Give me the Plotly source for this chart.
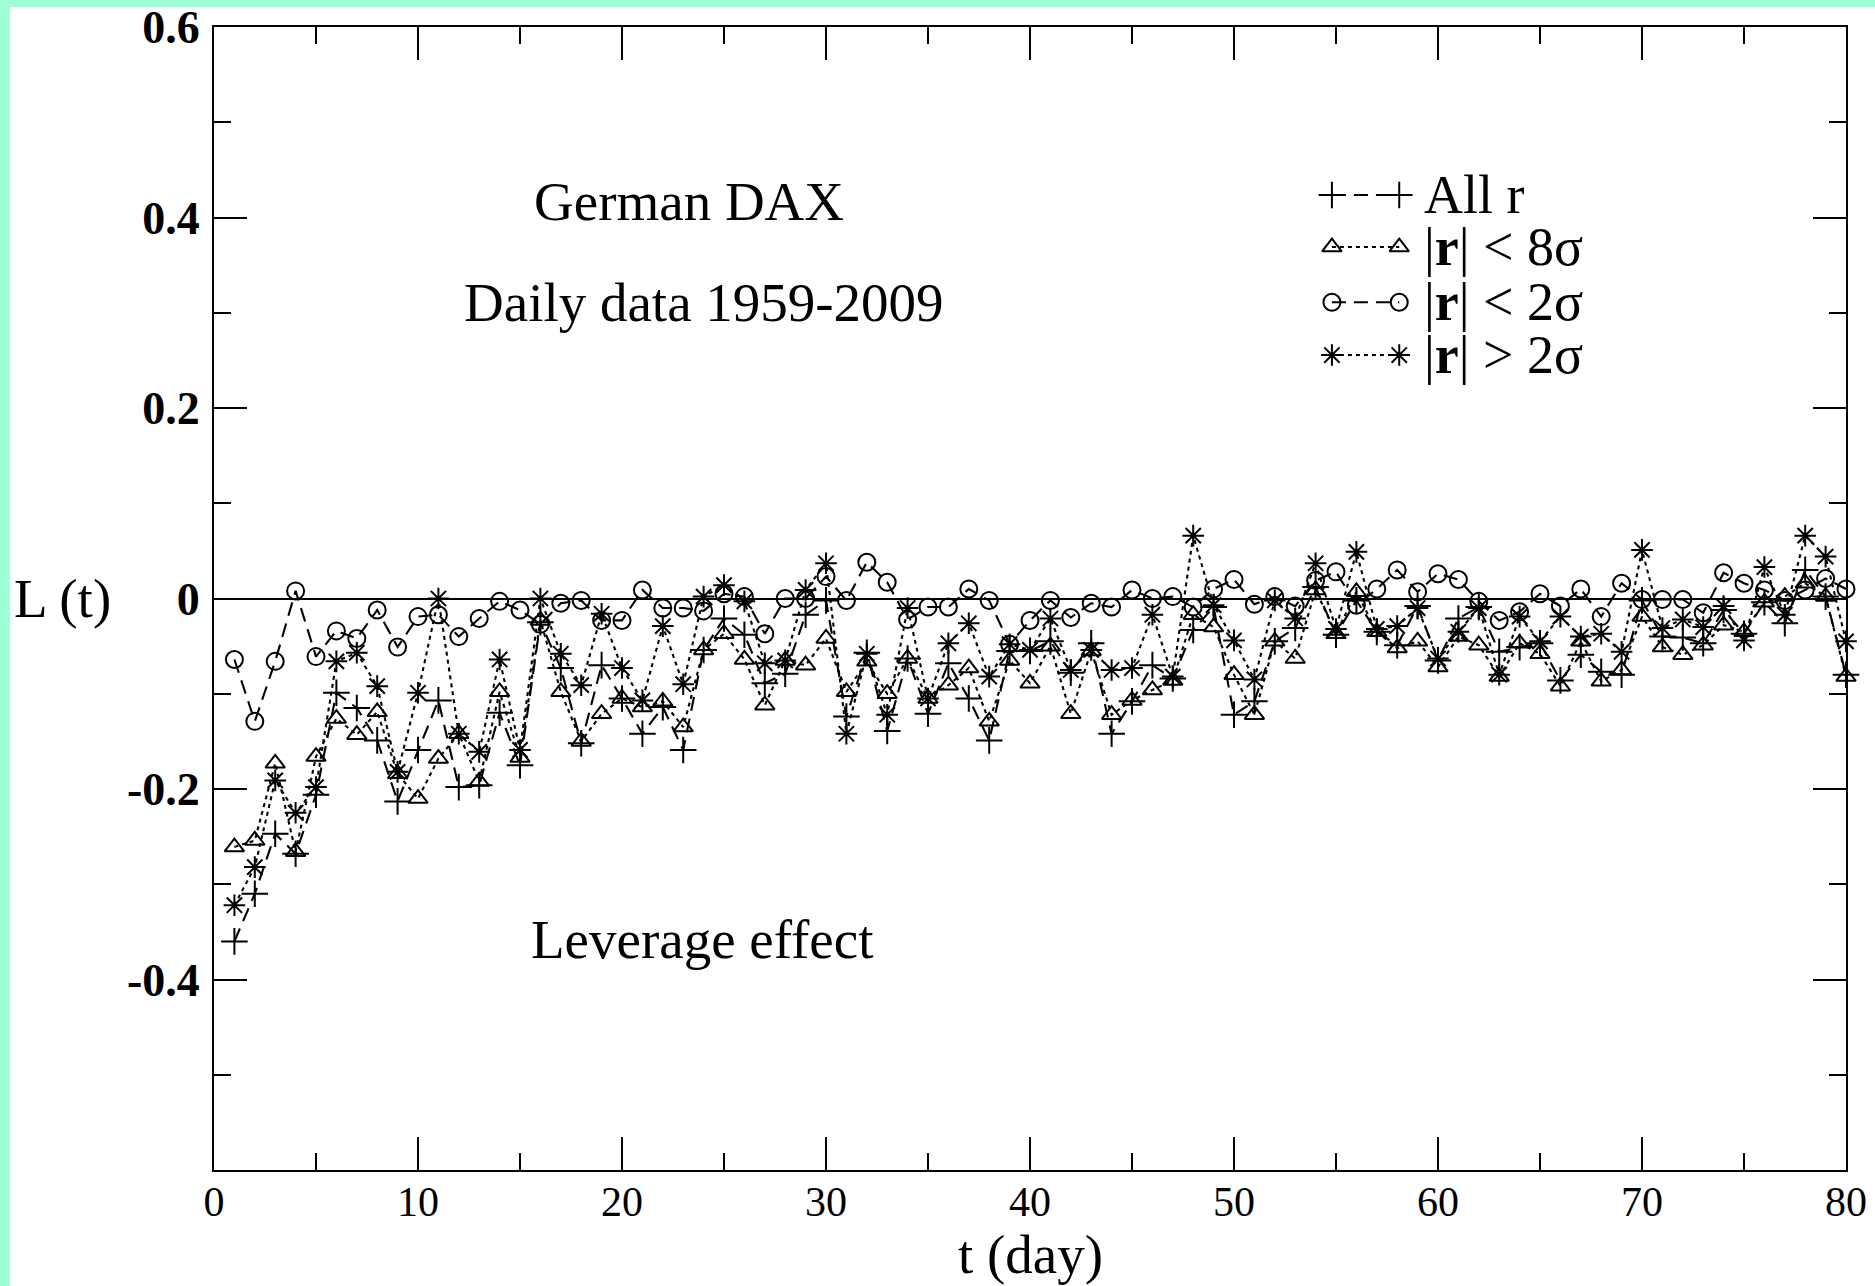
import plotly.graph_objects as go

# ---------------- data ----------------
t_days = list(range(1, 81))

all_r = [-0.360, -0.310, -0.247, -0.268, -0.206, -0.099, -0.115, -0.149, -0.213, -0.159,
         -0.107, -0.198, -0.196, -0.120, -0.175, -0.025, -0.073, -0.152, -0.070, -0.105,
         -0.142, -0.114, -0.159, -0.054, -0.021, -0.038, -0.089, -0.079, -0.017, -0.002,
         -0.124, -0.057, -0.139, -0.063, -0.121, -0.068, -0.105, -0.149, -0.055, -0.055,
         -0.045, -0.078, -0.047, -0.142, -0.108, -0.070, -0.084, -0.033, -0.009, -0.122,
         -0.108, -0.045, -0.031, 0.012, -0.038, -0.002, -0.035, -0.049, -0.008, -0.065,
         -0.021, -0.009, -0.056, -0.051, -0.047, -0.086, -0.059, -0.077, -0.080, -0.002,
         -0.040, -0.041, -0.047, -0.012, -0.037, -0.004, -0.026, 0.030, 0.002, -0.080]

r_lt_8s = [-0.261, -0.254, -0.173, -0.266, -0.166, -0.126, -0.143, -0.119, -0.184, -0.210,
           -0.168, -0.142, -0.192, -0.098, -0.167, -0.023, -0.098, -0.150, -0.121, -0.105,
           -0.114, -0.108, -0.135, -0.054, -0.037, -0.064, -0.112, -0.065, -0.070, -0.042,
           -0.098, -0.066, -0.100, -0.063, -0.105, -0.091, -0.073, -0.129, -0.065, -0.089,
           -0.050, -0.121, -0.055, -0.122, -0.107, -0.096, -0.086, -0.017, -0.030, -0.080,
           -0.122, -0.045, -0.063, 0.009, -0.037, 0.007, -0.035, -0.052, -0.045, -0.072,
           -0.040, -0.049, -0.082, -0.047, -0.058, -0.092, -0.045, -0.087, -0.075, -0.019,
           -0.051, -0.059, -0.049, -0.028, -0.035, -0.004, 0.002, 0.016, 0.002, -0.082]

r_lt_2s = [-0.064, -0.129, -0.066, 0.008, -0.061, -0.034, -0.042, -0.012, -0.051, -0.019,
           -0.017, -0.040, -0.021, -0.003, -0.012, -0.027, -0.005, -0.002, -0.023, -0.023,
           0.009, -0.010, -0.010, -0.013, 0.005, 0.002, -0.037, 0.000, 0.000, 0.023,
           -0.002, 0.038, 0.017, -0.022, -0.009, -0.009, 0.010, -0.002, -0.048, -0.023,
           -0.002, -0.020, -0.005, -0.009, 0.009, 0.000, 0.002, -0.009, 0.010, 0.020,
           -0.006, 0.002, -0.008, 0.019, 0.028, -0.007, 0.010, 0.030, 0.007, 0.026,
           0.020, -0.003, -0.023, -0.014, 0.005, -0.008, 0.010, -0.019, 0.016, -0.001,
           -0.001, -0.001, -0.015, 0.027, 0.016, 0.009, -0.002, 0.009, 0.021, 0.010]

r_gt_2s = [-0.322, -0.282, -0.191, -0.225, -0.198, -0.066, -0.057, -0.092, -0.182, -0.099,
           0.000, -0.142, -0.161, -0.064, -0.159, 0.000, -0.058, -0.091, -0.016, -0.073,
           -0.107, -0.029, -0.090, 0.002, 0.014, -0.003, -0.068, -0.065, 0.009, 0.037,
           -0.142, -0.058, -0.122, -0.010, -0.105, -0.047, -0.026, -0.082, -0.048, -0.054,
           -0.021, -0.075, -0.054, -0.075, -0.073, -0.017, -0.082, 0.066, -0.007, -0.044,
           -0.085, -0.002, -0.021, 0.037, -0.032, 0.049, -0.032, -0.029, -0.010, -0.063,
           -0.035, -0.010, -0.080, -0.019, -0.045, -0.019, -0.040, -0.037, -0.056, 0.051,
           -0.031, -0.022, -0.030, -0.008, -0.044, 0.033, -0.017, 0.066, 0.044, -0.045]

series_names = ["All r", "|<b>r</b>| < 8σ", "|<b>r</b>| < 2σ", "|<b>r</b>| > 2σ"]
series_values = [all_r, r_lt_8s, r_lt_2s, r_gt_2s]

x_tick_vals = [0, 10, 20, 30, 40, 50, 60, 70, 80]
y_tick_vals = [-0.4, -0.2, 0, 0.2, 0.4, 0.6]
y_tick_text = ["-0.4", "-0.2", "0", "0.2", "0.4", "0.6"]

# ---------------- styles ----------------
FONT = "Liberation Serif, Times New Roman, serif"
styles = [
    dict(symbol="cross-thin-open", size=19, dash="14px,8px"),
    dict(symbol="triangle-up-open", size=17, dash="4px,4px"),
    dict(symbol="circle-open", size=17, dash="14px,8px"),
    dict(symbol="asterisk-open", size=18, dash="4px,4px"),
]
LINE_W = 2.1

fig = go.Figure()

for name, vals, st in zip(series_names, series_values, styles):
    fig.add_trace(go.Scatter(
        x=t_days, y=vals, mode="lines+markers", name=name, showlegend=False,
        line=dict(color="black", width=LINE_W, dash=st["dash"]),
        marker=dict(symbol=st["symbol"], size=st["size"], color="black",
                    line=dict(color="black", width=2)),
        cliponaxis=False,
    ))

# ---------------- hand-drawn legend (samples with markers at both ends) ----------------
leg_x = [54.8, 58.1]
leg_text_x = 59.2
leg_rows_y = [0.4236, 0.369, 0.311, 0.2556]
for name, st, ly in zip(series_names, styles, leg_rows_y):
    fig.add_trace(go.Scatter(
        x=leg_x, y=[ly, ly], mode="lines+markers", showlegend=False, hoverinfo="skip",
        line=dict(color="black", width=LINE_W, dash=st["dash"]),
        marker=dict(symbol=st["symbol"], size=st["size"], color="black",
                    line=dict(color="black", width=2)),
        cliponaxis=False,
    ))
    fig.add_annotation(x=leg_text_x, y=ly, xref="x", yref="y", text=name,
                       showarrow=False, xanchor="left", yanchor="middle",
                       font=dict(family=FONT, size=54, color="black"))

# ---------------- text labels ----------------
text_font = dict(family=FONT, size=55, color="black")
fig.add_annotation(x=23.3, y=0.417, xref="x", yref="y", text="German DAX",
                   showarrow=False, font=text_font)
fig.add_annotation(x=24.0, y=0.311, xref="x", yref="y", text="Daily data 1959-2009",
                   showarrow=False, font=text_font)
fig.add_annotation(x=23.9, y=-0.358, xref="x", yref="y", text="Leverage effect",
                   showarrow=False, font=text_font)
fig.add_annotation(x=-0.093, y=0.5, xref="paper", yref="paper", text="L (t)",
                   showarrow=False, font=text_font, xanchor="center", yanchor="middle")
fig.add_annotation(x=0.5, y=-0.0735, xref="paper", yref="paper", text="t (day)",
                   showarrow=False, font=text_font, xanchor="center", yanchor="middle")

# white panel over the aqua page background
fig.add_shape(type="rect", xref="paper", yref="paper",
              x0=-0.125, x1=1.02, y0=-0.11, y1=1.0175,
              fillcolor="white", line=dict(width=0), layer="below")

axis_common = dict(
    showgrid=False, showline=True, linecolor="black", linewidth=2, mirror="allticks",
    ticks="inside", tickcolor="black", tickwidth=2, ticklen=33, automargin=False,
)

fig.update_xaxes(
    range=[0, 80], tickvals=x_tick_vals,
    tickfont=dict(family=FONT, size=42, color="black"),
    minor=dict(ticks="inside", dtick=5, ticklen=17, tickwidth=2, tickcolor="black", showgrid=False),
    zeroline=False, ticklabelstandoff=-6, **axis_common,
)
fig.update_yaxes(
    range=[-0.6, 0.6], tickvals=y_tick_vals, ticktext=y_tick_text,
    tickfont=dict(family=FONT, size=46, color="black", weight="bold"),
    minor=dict(ticks="inside", tickvals=[-0.5, -0.3, -0.1, 0.1, 0.3, 0.5], ticklen=17,
               tickwidth=2, tickcolor="black", showgrid=False),
    zeroline=True, zerolinecolor="black", zerolinewidth=2, ticklabelstandoff=3, **axis_common,
)

fig.update_layout(
    template="none",
    width=1875, height=1286, autosize=False,
    margin=dict(l=214, r=29, t=27, b=116, pad=0),
    paper_bgcolor="#9effd4", plot_bgcolor="white",
    font=dict(family=FONT, color="black"),
    showlegend=False,
)

fig.write_html("out.html", config={"displayModeBar": False},
               post_script="document.body.style.margin='0';document.body.style.overflow='hidden';")
